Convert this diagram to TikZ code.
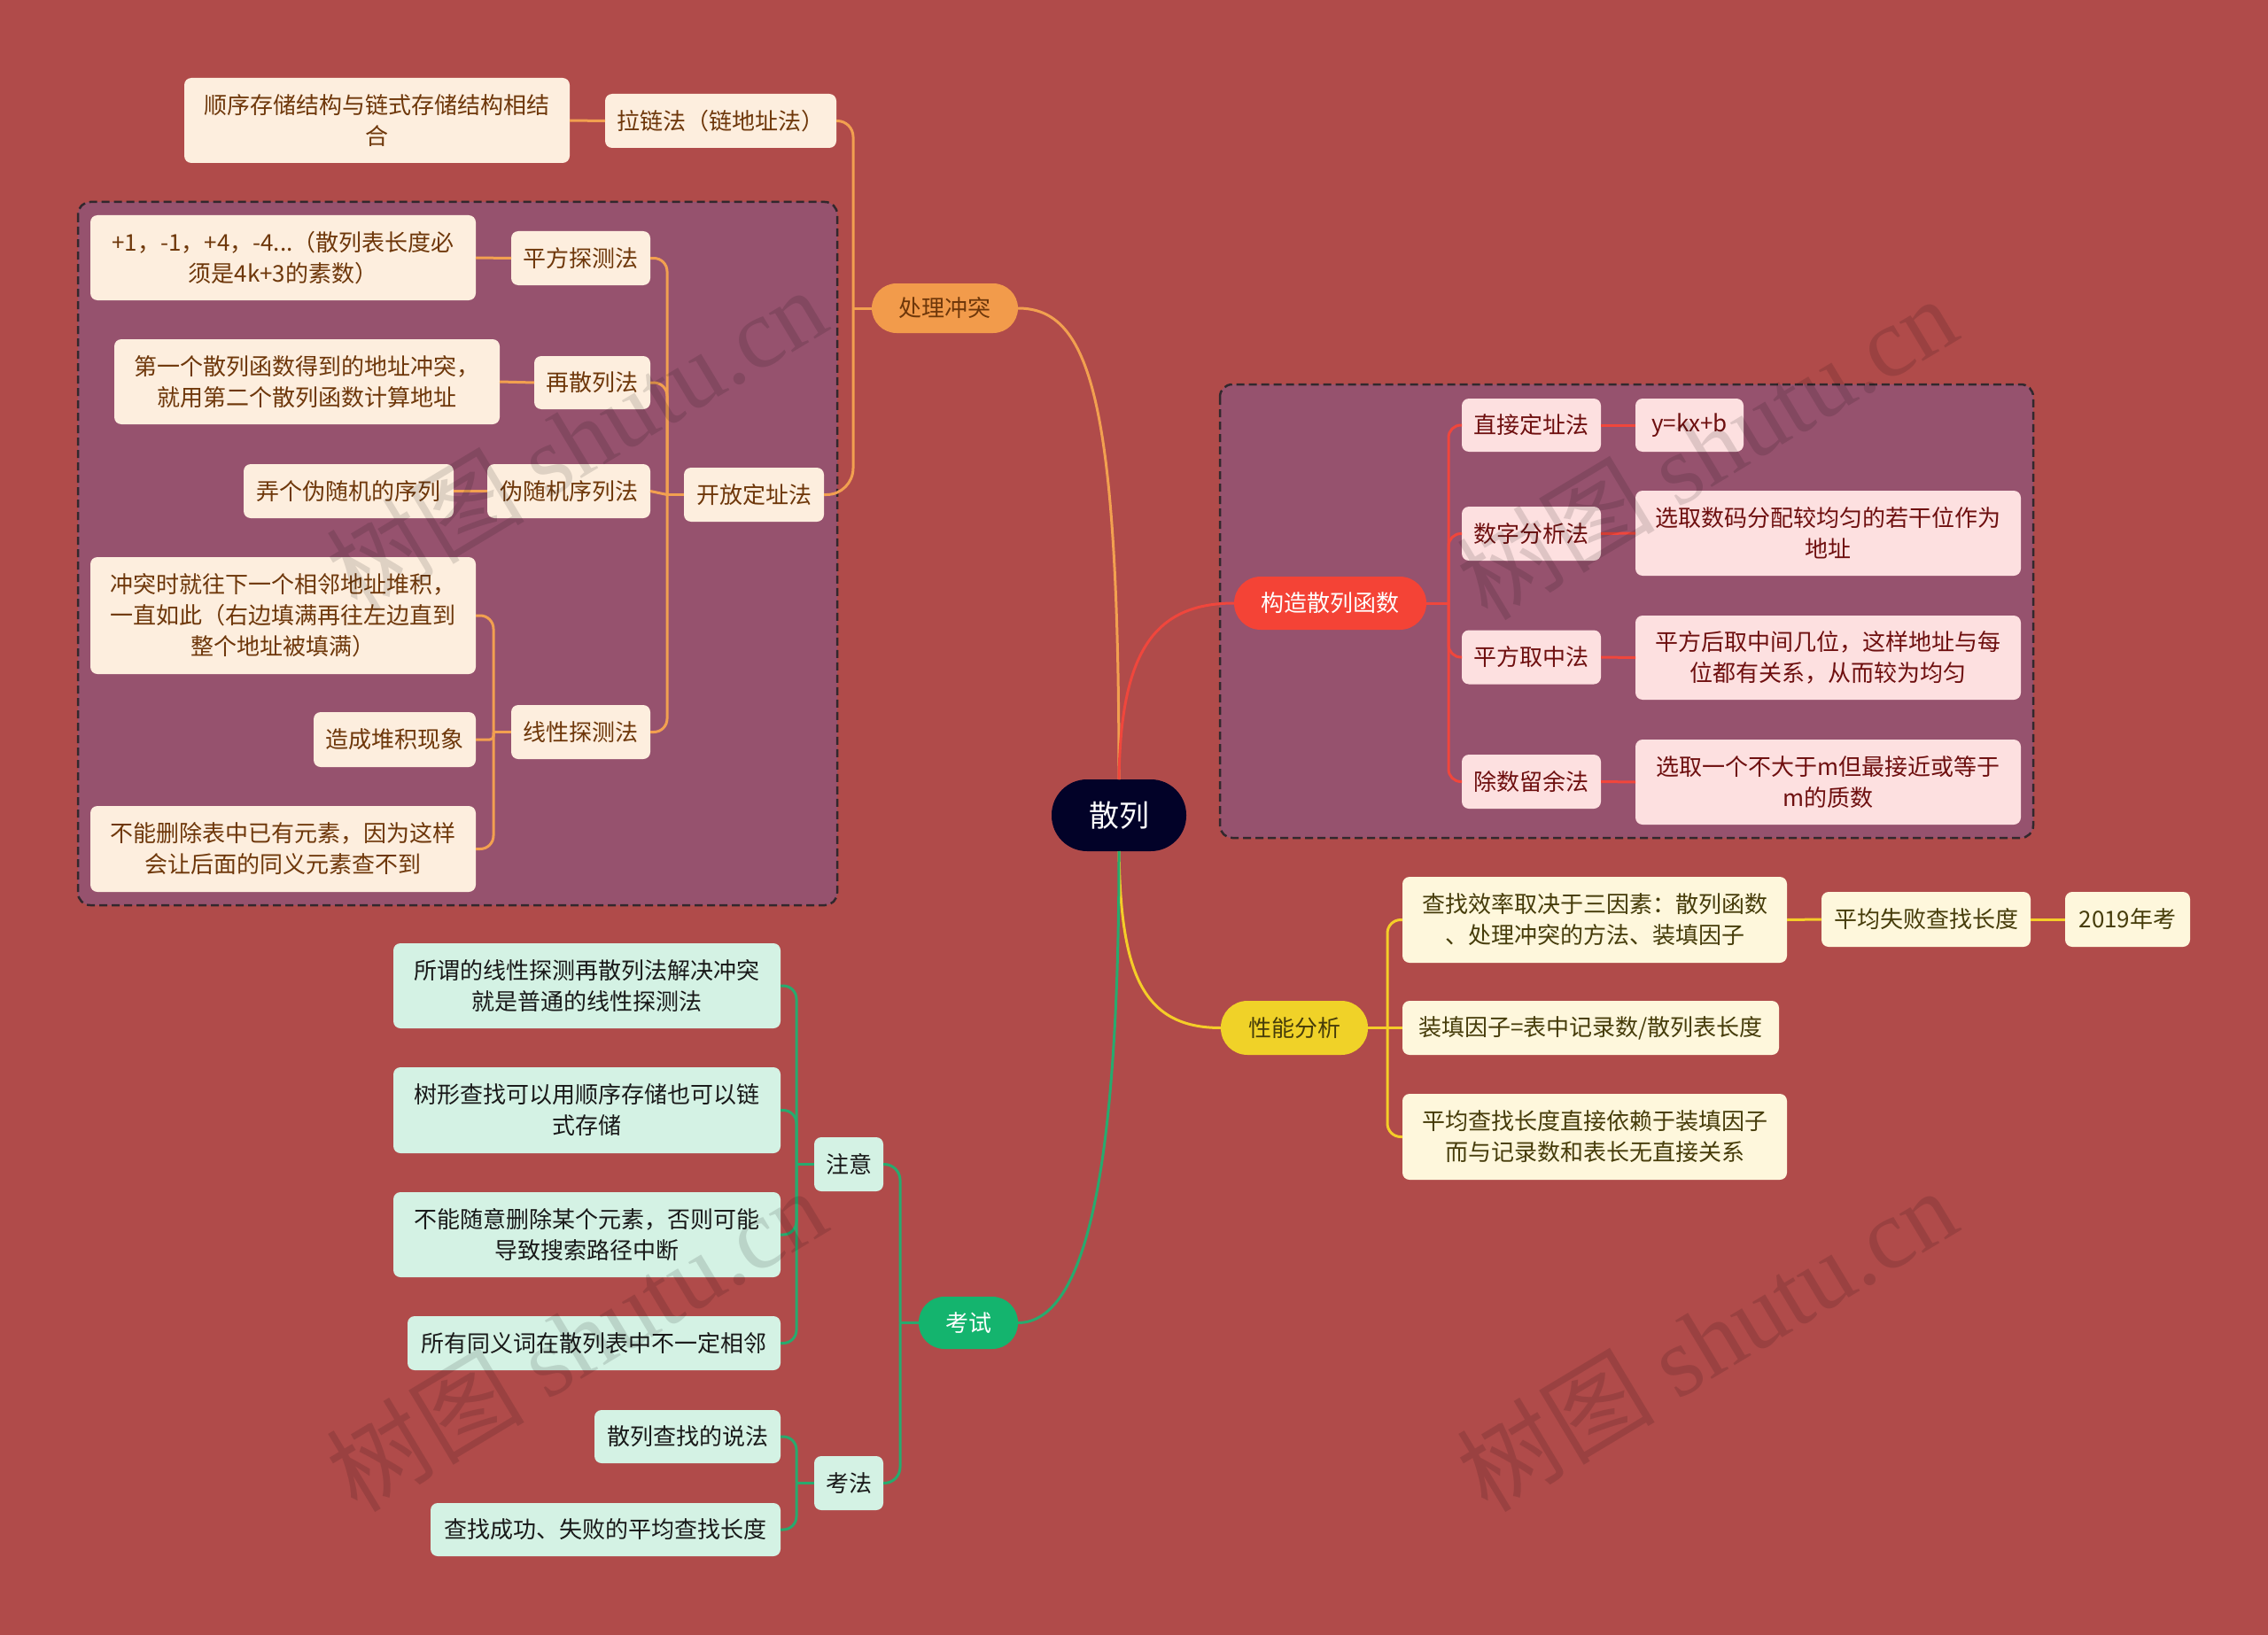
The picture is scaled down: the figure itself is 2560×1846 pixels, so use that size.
\documentclass[tikz,border=0pt]{standalone}
\usepackage{fontspec}
\setmainfont{Noto Sans CJK SC}
\newfontfamily\wmserif{Liberation Serif}
\definecolor{bgc}{RGB}{176,75,74}
\definecolor{grpfill}{RGB}{150,82,110}
\definecolor{grpline}{RGB}{50,40,45}
\definecolor{olinec}{RGB}{242,160,80}
\definecolor{opillc}{RGB}{242,155,75}
\definecolor{ofill}{RGB}{253,238,222}
\definecolor{otext}{RGB}{110,55,10}
\definecolor{rlinec}{RGB}{240,70,60}
\definecolor{rpillc}{RGB}{244,67,54}
\definecolor{rfill}{RGB}{253,224,224}
\definecolor{rtext}{RGB}{110,15,15}
\definecolor{ylinec}{RGB}{245,205,40}
\definecolor{ypillc}{RGB}{240,210,40}
\definecolor{yfill}{RGB}{254,247,220}
\definecolor{ytext}{RGB}{70,60,10}
\definecolor{glinec}{RGB}{40,170,110}
\definecolor{gpillc}{RGB}{20,180,110}
\definecolor{gfill}{RGB}{212,242,228}
\definecolor{gtext}{RGB}{25,25,25}
\definecolor{rootc}{RGB}{2,2,40}
\begin{document}
\begin{tikzpicture}[x=1pt,y=-1pt,
  every node/.style={inner sep=0pt, outer sep=0pt},
  sz/.style 2 args={minimum width=#1, minimum height=#2},
  box/.style={rectangle, rounded corners=8pt, align=center, font=\fontsize{26}{35}\selectfont},
  obox/.style={box, fill=ofill, text=otext},
  rbox/.style={box, fill=rfill, text=rtext},
  ybox/.style={box, fill=yfill, text=ytext},
  gbox/.style={box, fill=gfill, text=gtext},
  pill/.style={rectangle, rounded corners=29pt, align=center, font=\fontsize{26}{35}\selectfont},
  grp/.style={draw=grpline, fill=grpfill, line width=2.5pt, dash pattern=on 9pt off 5pt, rounded corners=14pt},
  ol/.style={draw=olinec, line width=3pt},
  rl/.style={draw=rlinec, line width=3pt},
  yl/.style={draw=ylinec, line width=3pt},
  gl/.style={draw=glinec, line width=3pt},
  wm/.style={text=black, text opacity=0.12, font=\fontsize{112}{112}\selectfont, rotate=31}
]
\fill[bgc] (0,0) rectangle (2560,1846);
\useasboundingbox (0,0) rectangle (2560,1846);

% groups
\draw[grp] (88,228) rectangle (945,1022);
\draw[grp] (1377,434) rectangle (2295,946);

% root and main branches
\node[pill, rounded corners=40pt, fill=rootc, text=white, font=\fontsize{34}{40}\selectfont, sz={152}{81}] (root) at (1263,920.5) {散列};
\node[pill, rounded corners=28pt, fill=opillc, text=otext, sz={165}{56}] (chuli) at (1066.5,348) {处理冲突};
\node[pill, rounded corners=30pt, fill=rpillc, text=white, sz={217}{60}] (gouzao) at (1501.5,681) {构造散列函数};
\node[pill, rounded corners=30pt, fill=ypillc, text=ytext, sz={166}{61}] (xingneng) at (1461,1160.5) {性能分析};
\node[pill, rounded corners=29pt, fill=gpillc, text=white, sz={112}{59}] (kaoshi) at (1093,1493.5) {考试};

% orange branch
\node[obox, sz={261}{61}] (lalian) at (813.5,136.5) {拉链法（链地址法）};
\node[obox, sz={435}{96}] (shunxu) at (425.5,136) {顺序存储结构与链式存储结构相结\\合};
\node[obox, sz={158}{61}] (kaifang) at (851,558.5) {开放定址法};
\node[obox, sz={157}{61}] (pingfang) at (655.5,291.5) {平方探测法};
\node[obox, sz={435}{96}] (pfchild) at (319.5,291) {+1，-1，+4，-4...（散列表长度必\\须是4k+3的素数）};
\node[obox, sz={131}{60}] (zaisan) at (668.5,432) {再散列法};
\node[obox, sz={435}{96}] (zschild) at (346.5,431) {第一个散列函数得到的地址冲突，\\就用第二个散列函数计算地址};
\node[obox, sz={184}{61}] (weisui) at (642,554.5) {伪随机序列法};
\node[obox, sz={237}{61}] (nongge) at (393.5,554.5) {弄个伪随机的序列};
\node[obox, sz={157}{61}] (xianxing) at (655.5,826.5) {线性探测法};
\node[obox, sz={435}{132}] (chongtu) at (319.5,695) {冲突时就往下一个相邻地址堆积，\\一直如此（右边填满再往左边直到\\整个地址被填满）};
\node[obox, sz={183}{62}] (zaocheng) at (445.5,835) {造成堆积现象};
\node[obox, sz={435}{97}] (buneng) at (319.5,958.5) {不能删除表中已有元素，因为这样\\会让后面的同义元素查不到};

% red branch
\node[rbox, sz={157}{60}] (zhijie) at (1728.5,480) {直接定址法};
\node[rbox, sz={122}{60}] (ykx) at (1907,480) {y=kx+b};
\node[rbox, sz={157}{61}] (shuzi) at (1728.5,602.5) {数字分析法};
\node[rbox, sz={435}{96}] (shuzic) at (2063.5,602) {选取数码分配较均匀的若干位作为\\地址};
\node[rbox, sz={157}{61}] (pfqz) at (1728.5,742) {平方取中法};
\node[rbox, sz={435}{95}] (pfqzc) at (2063.5,742.5) {平方后取中间几位，这样地址与每\\位都有关系，从而较为均匀};
\node[rbox, sz={157}{61}] (chushu) at (1728.5,882.5) {除数留余法};
\node[rbox, sz={435}{96}] (chushuc) at (2063.5,883) {选取一个不大于m但最接近或等于\\m的质数};

% yellow branch
\node[ybox, sz={434}{97}] (chazhao) at (1800,1038.5) {查找效率取决于三因素：散列函数\\、处理冲突的方法、装填因子};
\node[ybox, sz={236}{62}] (pjsb) at (2174,1038) {平均失败查找长度};
\node[ybox, sz={141}{62}] (kao19) at (2401.5,1038) {2019年考};
\node[ybox, sz={425}{61}] (zhuang) at (1795.5,1160.5) {装填因子=表中记录数/散列表长度};
\node[ybox, sz={434}{97}] (pjcz) at (1800,1283.5) {平均查找长度直接依赖于装填因子\\而与记录数和表长无直接关系};

% green branch
\node[gbox, sz={78}{61}] (zhuyi) at (958,1314.5) {注意};
\node[gbox, sz={437}{96}] (suowei) at (662.5,1113) {所谓的线性探测再散列法解决冲突\\就是普通的线性探测法};
\node[gbox, sz={437}{97}] (shuxing) at (662.5,1253.5) {树形查找可以用顺序存储也可以链\\式存储};
\node[gbox, sz={437}{96}] (bunengsy) at (662.5,1394) {不能随意删除某个元素，否则可能\\导致搜索路径中断};
\node[gbox, sz={421}{61}] (suoyou) at (670.5,1516.5) {所有同义词在散列表中不一定相邻};
\node[gbox, sz={78}{61}] (kaofa) at (958,1674.5) {考法};
\node[gbox, sz={210}{60}] (sanlie) at (776,1622) {散列查找的说法};
\node[gbox, sz={395}{60}] (chenggong) at (683.5,1727) {查找成功、失败的平均查找长度};

% junction coordinates
\coordinate (vC) at (963,0);
\coordinate (vK) at (753,0);
\coordinate (vX) at (557,0);
\coordinate (vR) at (1635,0);
\coordinate (vY) at (1566,0);
\coordinate (vG) at (1016,0);
\coordinate (vZ) at (899,0);

% root curves
\draw[ol] (root.north) .. controls (1263,450) and (1230,348) .. (chuli.east);
\draw[rl] (root.north) .. controls (1265,740) and (1300,681) .. (gouzao.west);
\draw[yl] (root.south) .. controls (1265,1100) and (1290,1160.5) .. (xingneng.west);
\draw[gl] (root.south) .. controls (1263,1300) and (1230,1493.5) .. (kaoshi.east);

% orange connectors
\draw[ol] (chuli.west) -- (chuli.west -| vC);
\draw[ol, rounded corners=18pt] (chuli.west -| vC) |- (lalian.east);
\draw[ol, rounded corners=30pt] (chuli.west -| vC) |- (kaifang.east);
\draw[ol] (lalian.west) -- (shunxu.east);
\draw[ol] (kaifang.west) -- (kaifang.west -| vK);
\draw[ol, rounded corners=15pt] (kaifang.west -| vK) |- (pingfang.east);
\draw[ol, rounded corners=15pt] (kaifang.west -| vK) |- (zaisan.east);
\draw[ol] (kaifang.west -| vK) -- (weisui.east);
\draw[ol, rounded corners=15pt] (kaifang.west -| vK) |- (xianxing.east);
\draw[ol] (pingfang.west) -- (pfchild.east);
\draw[ol] (zaisan.west) -- (zschild.east);
\draw[ol] (weisui.west) -- (nongge.east);
\draw[ol] (xianxing.west) -- (xianxing.west -| vX);
\draw[ol, rounded corners=15pt] (xianxing.west -| vX) |- (chongtu.east);
\draw[ol, rounded corners=4pt] (xianxing.west -| vX) |- (zaocheng.east);
\draw[ol, rounded corners=15pt] (xianxing.west -| vX) |- (buneng.east);

% red connectors
\draw[rl] (gouzao.east) -- (gouzao.east -| vR);
\draw[rl, rounded corners=14pt] (gouzao.east -| vR) |- (zhijie.west);
\draw[rl, rounded corners=14pt] (gouzao.east -| vR) |- (shuzi.west);
\draw[rl, rounded corners=14pt] (gouzao.east -| vR) |- (pfqz.west);
\draw[rl, rounded corners=14pt] (gouzao.east -| vR) |- (chushu.west);
\draw[rl] (zhijie.east) -- (ykx.west);
\draw[rl] (shuzi.east) -- (shuzic.west);
\draw[rl] (pfqz.east) -- (pfqzc.west);
\draw[rl] (chushu.east) -- (chushuc.west);

% yellow connectors
\draw[yl] (xingneng.east) -- (xingneng.east -| vY);
\draw[yl, rounded corners=15pt] (xingneng.east -| vY) |- (chazhao.west);
\draw[yl] (xingneng.east -| vY) -- (zhuang.west);
\draw[yl, rounded corners=15pt] (xingneng.east -| vY) |- (pjcz.west);
\draw[yl] (chazhao.east) -- (pjsb.west);
\draw[yl] (pjsb.east) -- (kao19.west);

% green connectors
\draw[gl] (kaoshi.west) -- (kaoshi.west -| vG);
\draw[gl, rounded corners=18pt] (kaoshi.west -| vG) |- (zhuyi.east);
\draw[gl, rounded corners=18pt] (kaoshi.west -| vG) |- (kaofa.east);
\draw[gl] (zhuyi.west) -- (zhuyi.west -| vZ);
\draw[gl, rounded corners=15pt] (zhuyi.west -| vZ) |- (suowei.east);
\draw[gl, rounded corners=15pt] (zhuyi.west -| vZ) |- (shuxing.east);
\draw[gl, rounded corners=15pt] (zhuyi.west -| vZ) |- (bunengsy.east);
\draw[gl, rounded corners=15pt] (zhuyi.west -| vZ) |- (suoyou.east);
\draw[gl] (kaofa.west) -- (kaofa.west -| vZ);
\draw[gl, rounded corners=15pt] (kaofa.west -| vZ) |- (sanlie.east);
\draw[gl, rounded corners=15pt] (kaofa.west -| vZ) |- (chenggong.east);

% watermarks
\node[wm] (wm1) at (650,495) {树图 {\wmserif shutu.cn}};
\node[wm] (wm2) at (1926,505) {树图 {\wmserif shutu.cn}};
\node[wm] (wm3) at (650,1512) {树图 {\wmserif shutu.cn}};
\node[wm] (wm4) at (1926,1512) {树图 {\wmserif shutu.cn}};
\end{tikzpicture}
\end{document}
